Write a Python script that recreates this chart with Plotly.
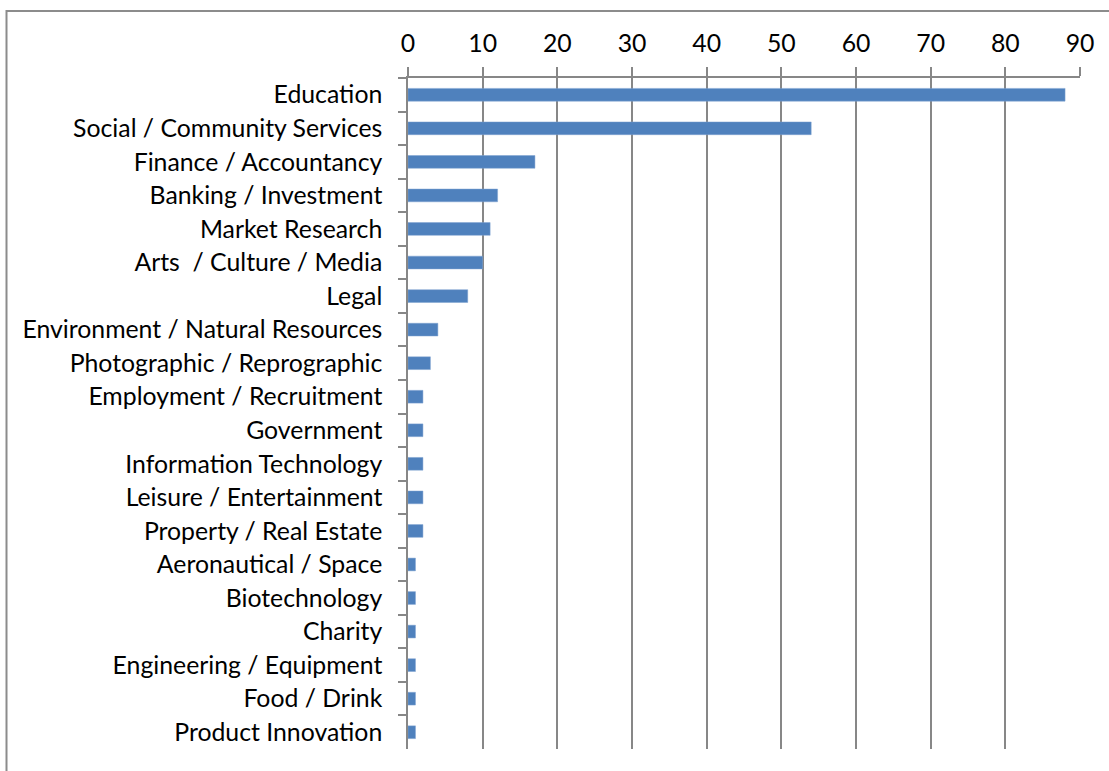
import plotly.graph_objects as go

# Sectors, listed top to bottom
sectors = [
    "Education", "Social / Community Services", "Finance / Accountancy",
    "Banking / Investment", "Market Research", "Arts\u00a0 / Culture / Media",
    "Legal", "Environment / Natural Resources", "Photographic / Reprographic",
    "Employment / Recruitment", "Government", "Information Technology",
    "Leisure / Entertainment", "Property / Real Estate", "Aeronautical / Space",
    "Biotechnology", "Charity", "Engineering / Equipment", "Food / Drink",
    "Product Innovation",
]
counts = [88, 54, 17, 12, 11, 10, 8, 4, 3, 2, 2, 2, 2, 2, 1, 1, 1, 1, 1, 1]
x_ticks = [0, 10, 20, 30, 40, 50, 60, 70, 80, 90]

GRID = "#878787"
FONT = "Lato, 'Open Sans', sans-serif"
FS = 24.8

fig = go.Figure(go.Bar(
    x=counts, y=sectors, orientation="h",
    marker=dict(color="#4F81BD", line=dict(color="#7fa3d0", width=0.5)),
    width=0.38,
))

L, R, T, B = 408, 29, 78, 22
W, H = 1109, 771
pw, ph = W - L - R, H - T - B

fig.update_layout(
    width=W, height=H,
    margin=dict(l=L, r=R, t=T, b=B),
    paper_bgcolor="white", plot_bgcolor="white",
    showlegend=False,
    font=dict(family=FONT, size=FS, color="#000000"),
    xaxis=dict(
        side="top", range=[0, 90], tickvals=x_ticks,
        showgrid=True, gridcolor=GRID, gridwidth=1.5,
        showline=True, linecolor=GRID, linewidth=1.5,
        ticks="outside", ticklen=9, tickcolor=GRID, tickwidth=1.5,
        ticklabelstandoff=5, zeroline=False,
        tickfont=dict(family=FONT, size=FS),
    ),
    yaxis=dict(
        categoryorder="array", categoryarray=sectors, autorange="reversed",
        showline=True, linecolor=GRID, linewidth=1.5,
        ticks="outside", ticklen=8, tickcolor=GRID, tickwidth=1.5,
        tickson="boundaries",
        ticklabelstandoff=19, showgrid=False,
        tickfont=dict(family=FONT, size=FS),
    ),
    shapes=[dict(
        type="rect", xref="paper", yref="paper",
        x0=(6.5 - L) / pw, x1=(W + 20 - L) / pw,
        y0=-(B + 20) / ph, y1=(H - 11 - B) / ph,
        line=dict(color="#8c8c8c", width=2), fillcolor="rgba(0,0,0,0)",
        layer="below",
    )],
)

fig.write_html("out.html")
